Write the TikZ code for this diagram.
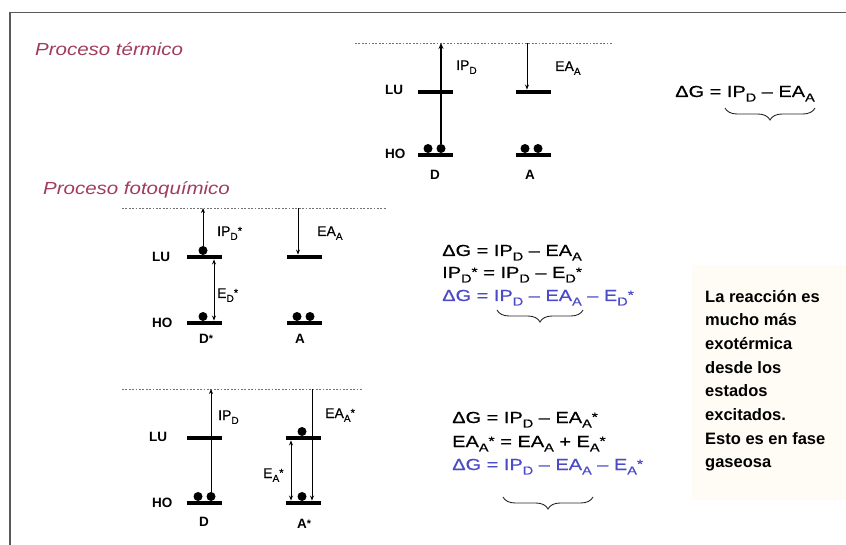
\documentclass[tikz,border=0pt]{standalone}
\usepackage{fontspec}
\setmainfont{Liberation Sans}
\newfontfamily\eqfont[FakeStretch=1.25,FakeBold=0.6]{Liberation Sans}
\newfontfamily\smfont[FakeBold=0.5]{Liberation Sans}
\newfontfamily\titfont[FakeStretch=1.17]{Liberation Sans}
\usetikzlibrary{arrows.meta,decorations.pathreplacing}
\definecolor{titcol}{RGB}{160,60,90}
\definecolor{bluecol}{RGB}{75,75,200}
\definecolor{framecol}{RGB}{90,90,90}
\definecolor{creamcol}{RGB}{254,252,245}
\newcommand\lo[1]{\raisebox{-0.28em}{\scalebox{0.72}{#1}}}
\newcommand\st{\raisebox{0.1em}{\scalebox{0.8}{*}}}
\tikzset{
 bar/.style={fill=black,inner sep=0pt,minimum width=35pt,minimum height=4.5pt},
 electron/.style={circle,fill=black,inner sep=0pt,minimum size=9pt},
 vac/.style={gray!90!black,line width=0.9pt,dash pattern=on 1.8pt off 1.6pt},
 thinarrow/.style={line width=1pt,-{Stealth[length=5pt,width=4pt]}},
 thinboth/.style={line width=1pt,{Stealth[length=5pt,width=4pt]}-{Stealth[length=5pt,width=4pt]}},
 thickarrow/.style={line width=1.8pt,-{Stealth[length=6pt,width=5pt]}},
 lab/.style={font=\fontsize{13.5}{15}\selectfont\bfseries,inner sep=0pt},
 sml/.style={font=\smfont\fontsize{14}{16}\selectfont,inner sep=0pt,anchor=base west},
 eq/.style={font=\eqfont\fontsize{16}{19}\selectfont,inner sep=0pt,anchor=base west},
 tit/.style={font=\titfont\itshape\fontsize{17.5}{20}\selectfont,text=titcol,inner sep=0pt,anchor=base west},
 note/.style={font=\fontsize{16.5}{20}\selectfont\bfseries,inner sep=0pt,anchor=base west},
 brc/.style={decorate,decoration={brace,amplitude=12pt},line width=0.9pt,gray!30!black},
}
\begin{document}
\begin{tikzpicture}[x=1pt,y=-1pt]
\useasboundingbox (0,0) rectangle (846,545);
\fill[creamcol] (692,265) rectangle (846,500);
\draw[framecol,line width=1.3pt] (846,12.7) -- (10,12.7) -- (10,545);

% ---------- Proceso termico ----------
\node[tit] (t1) at (35,56) {Proceso térmico};
\coordinate (v1a) at (355,43); \coordinate (v1b) at (612,43);
\draw[vac] (v1a) -- (v1b);
\node[bar] (d1lu) at (435.5,92) {};
\node[bar] (d1ho) at (435.5,155) {};
\node[bar] (a1lu) at (533.5,92) {};
\node[bar] (a1ho) at (533.5,155) {};
\node[electron] (d1e1) at (428,148.5) {};
\node[electron] (d1e2) at (441,148.5) {};
\node[electron] (a1e1) at (525,148.5) {};
\node[electron] (a1e2) at (538,148.5) {};
\coordinate (v1d) at (441,43); \coordinate (v1c) at (527,43);
\draw[thickarrow] (d1e2.north) -- (v1d);
\draw[thinarrow] (v1c) -- (v1c |- a1lu.north);
\node[lab,anchor=west] (lu1) at (385,90) {LU};
\node[lab,anchor=west] (ho1) at (385,154) {HO};
\node[lab] (dn1) at (435,175) {D};
\node[lab] (an1) at (530,175) {A};
\node[sml] (ip1) at (456,70) {IP\lo{D}};
\node[sml] (ea1) at (555,71) {EA\lo{A}};
\node[eq] (g1) at (675,97) {ΔG = IP\lo{D} – EA\lo{A}};
\coordinate (b1r) at (815,108); \coordinate (b1l) at (725,108);
\draw[brc] (b1r) -- (b1l);

% ---------- Proceso fotoquimico 1 ----------
\node[tit] (t2) at (43,195) {Proceso fotoquímico};
\coordinate (v2a) at (122,208); \coordinate (v2b) at (387,208);
\draw[vac] (v2a) -- (v2b);
\node[bar] (d2lu) at (204.5,257) {};
\node[bar] (d2ho) at (204.5,323) {};
\node[bar] (a2lu) at (304.5,257) {};
\node[bar] (a2ho) at (304.5,323) {};
\node[electron] (d2e1) at (203,250.5) {};
\node[electron] (d2e2) at (203,316.5) {};
\node[electron] (a2e1) at (297,316.5) {};
\node[electron] (a2e2) at (310,316.5) {};
\coordinate (v2d) at (203,208); \coordinate (v2c) at (298,208);
\draw[thinarrow] (d2e1.north) -- (v2d);
\draw[thinarrow] (v2c) -- (v2c |- a2lu.north);
\coordinate (ed2) at (214,290);
\draw[thinboth] (ed2 |- d2lu.south) -- (ed2 |- d2ho.north);
\node[lab,anchor=west] (lu2) at (152,257) {LU};
\node[lab,anchor=west] (ho2) at (152,323) {HO};
\node[lab] (dn2) at (206,339) {D\st};
\node[lab] (an2) at (300,339) {A};
\node[sml] (ip2) at (217,236) {IP\lo{D}\st};
\node[sml] (ea2) at (317,236) {EA\lo{A}};
\node[sml] (ed2l) at (217,298) {E\lo{D}\st};
\node[eq] (g2a) at (442,256) {ΔG = IP\lo{D} – EA\lo{A}};
\node[eq] (g2b) at (442,278) {IP\lo{D}\st\ = IP\lo{D} – E\lo{D}\st};
\node[eq,text=bluecol] (g2c) at (442,301) {ΔG = IP\lo{D} – EA\lo{A} – E\lo{D}\st};
\coordinate (b2r) at (583,310); \coordinate (b2l) at (497,310);
\draw[brc] (b2r) -- (b2l);

% ---------- Proceso fotoquimico 2 ----------
\coordinate (v3a) at (122,389); \coordinate (v3b) at (362,389);
\draw[vac] (v3a) -- (v3b);
\node[bar] (d3lu) at (204.5,438) {};
\node[bar] (d3ho) at (204.5,503) {};
\node[bar] (a3lu) at (303.5,438) {};
\node[bar] (a3ho) at (303.5,503) {};
\node[electron] (d3e1) at (198,496.5) {};
\node[electron] (d3e2) at (211,496.5) {};
\node[electron] (a3e1) at (302,431.5) {};
\node[electron] (a3e2) at (302,496.5) {};
\coordinate (v3d) at (211,389); \coordinate (v3c) at (312,389);
\draw[thinarrow] (d3e2.north) -- (v3d);
\draw[thinarrow] (v3c) -- (v3c |- a3ho.north);
\coordinate (ea3) at (291,470);
\draw[thinboth] (ea3 |- a3lu.south) -- (ea3 |- a3ho.north);
\node[lab,anchor=west] (lu3) at (149,437) {LU};
\node[lab,anchor=west] (ho3) at (152,503) {HO};
\node[lab] (dn3) at (204,522) {D};
\node[lab] (an3) at (304,524) {A\st};
\node[sml] (ip3) at (218,420) {IP\lo{D}};
\node[sml] (ea3l) at (325,418) {EA\lo{A}\st};
\node[sml] (eal3) at (263,478) {E\lo{A}\st};
\node[eq] (g3a) at (452,423) {ΔG = IP\lo{D} – EA\lo{A}\st};
\node[eq] (g3b) at (452,447) {EA\lo{A}\st\ = EA\lo{A} + E\lo{A}\st};
\node[eq,text=bluecol] (g3c) at (452,470) {ΔG = IP\lo{D} – EA\lo{A} – E\lo{A}\st};
\coordinate (b3r) at (593,497); \coordinate (b3l) at (503,497);
\draw[brc] (b3r) -- (b3l);

% ---------- note ----------
\node[note] (n1) at (705,302.0) {La reacción es};
\node[note] (n2) at (705,325.7) {mucho más};
\node[note] (n3) at (705,349.4) {exotérmica};
\node[note] (n4) at (705,373.1) {desde los};
\node[note] (n5) at (705,396.8) {estados};
\node[note] (n6) at (705,420.5) {excitados.};
\node[note] (n7) at (705,444.2) {Esto es en fase};
\node[note] (n8) at (705,467.9) {gaseosa};
\end{tikzpicture}
\end{document}
